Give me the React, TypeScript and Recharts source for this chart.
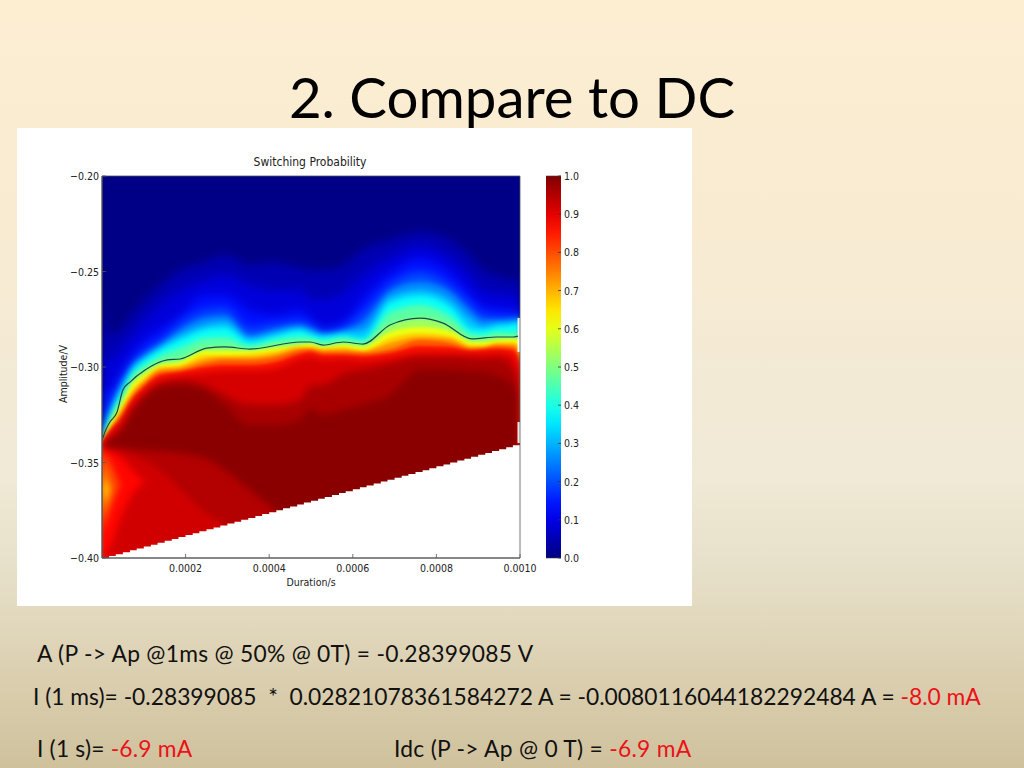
import React from "react";
import { ComposedChart, Area, Line, XAxis, YAxis, ReferenceArea } from "recharts";

// Duration columns (microseconds) at which the probability contours were read
const durationsUs = [0, 19, 43, 72, 103, 139, 187, 246, 294, 354, 414, 474, 498, 529, 577, 624, 689, 761, 833, 885, 911, 945, 983, 1000];
// Probability levels of the contours
const levels = [0.03, 0.07, 0.11, 0.17, 0.23, 0.29, 0.35, 0.42, 0.5, 0.57, 0.64, 0.7, 0.76, 0.82, 0.89, 0.94, 0.98];
// For each duration column: |amplitude| in mV where each level is reached
const c0 = [264.9, 288.5, 309.4, 327.8, 334, 335.6, 336.7, 337.2, 337.7, 338.2, 338.8, 338.8, 339.3, 339.3, 339.8, 340.3, 340.8];
const c19 = [283.3, 297.4, 313.1, 318.3, 321.5, 323.6, 325.1, 327.2, 328.8, 329.9, 331.4, 331.9, 333, 333.5, 334.6, 336.7, 338.2];
const c43 = [280.6, 291.1, 304.2, 307.9, 310, 312, 314.7, 316.8, 318.9, 320.9, 322.5, 324.1, 326.2, 327.8, 329.3, 331.9, 334.6];
const c72 = [272.8, 283.3, 293.7, 297.4, 299, 300.5, 302.6, 304.7, 306.8, 309.4, 312, 313.6, 315.7, 317.3, 318.9, 321.5, 324.1];
const c103 = [264.9, 275.4, 285.9, 291.1, 293.2, 294.8, 296.3, 299, 301.6, 303.7, 305.2, 306.8, 308.4, 310, 312, 313.6, 316.2];
const c139 = [257.1, 267.5, 280.6, 285.9, 288, 289.5, 291.1, 294.2, 297.4, 299, 300, 301.1, 302.6, 304.2, 306.3, 308.4, 311];
const c187 = [249.2, 259.7, 272.8, 277, 280.6, 283.3, 285.9, 290.1, 295.8, 297.4, 299, 300, 301.6, 302.6, 304.2, 306.8, 309.4];
const c246 = [245, 254.5, 262.3, 270.2, 274.4, 278, 280.6, 284.8, 290.1, 291.6, 293.7, 295.8, 297.9, 300, 302.6, 309.4, 312];
const c294 = [241.4, 251.8, 262.3, 269.1, 273.3, 276.4, 279.6, 284.3, 289.5, 291.6, 293.7, 294.8, 296.3, 299, 301.6, 314.7, 320];
const c354 = [246.6, 257.1, 270.2, 279.6, 283.3, 284.8, 286.9, 289, 290.6, 291.6, 293.2, 294.8, 296.3, 299, 301.6, 319.9, 330.4];
const c414 = [245, 259.7, 272.8, 277.5, 280.1, 282.2, 283.8, 285.9, 288.5, 290.1, 291.6, 293.2, 294.8, 297.4, 300.5, 319.9, 330.4];
const c474 = [248.2, 259.7, 270.2, 275.9, 278, 279.6, 281.2, 284.3, 287.4, 288.5, 289, 290.1, 291.1, 293.2, 295.3, 317.3, 327.8];
const c498 = [249.2, 263.9, 274.4, 277.5, 279.6, 281.2, 282.7, 284.8, 286.9, 288, 289, 290.1, 290.6, 292.2, 294.2, 310, 322];
const c529 = [249.2, 264.9, 279.6, 281.2, 282.2, 283.3, 284.3, 286.4, 288.5, 289.5, 290.1, 291.1, 292.2, 293.7, 295.8, 309.4, 325.1];
const c577 = [246.6, 261.3, 276.4, 279.1, 280.6, 281.7, 283.3, 284.8, 286.9, 288.5, 289.5, 290.6, 292.2, 293.7, 295.3, 303.7, 322.5];
const c624 = [238.7, 251.8, 263.9, 271.2, 276.4, 280.6, 284.8, 286.4, 288, 289.5, 291.1, 291.6, 292.7, 294.2, 296.3, 301.6, 319.9];
const c689 = [233.5, 242.9, 250.7, 256.5, 260.2, 263.4, 266.5, 271.2, 278, 281.7, 284.8, 287.4, 290.6, 292.7, 294.8, 298.4, 314.7];
const c761 = [229.3, 236.6, 242.9, 250.3, 255.5, 259.7, 262.8, 267.5, 274.4, 279.1, 282.2, 284.3, 285.9, 289, 292.2, 294.8, 301.6];
const c833 = [233.5, 242.9, 250.3, 257.1, 260.7, 265, 268.6, 273.3, 278.5, 281.2, 283.8, 285.3, 287.4, 289.5, 292.2, 294.8, 301.6];
const c885 = [242.9, 253.4, 262.3, 267.5, 271.2, 275.4, 280.1, 282.7, 285.3, 286.9, 288.5, 289.5, 290.6, 291.6, 292.7, 295.3, 302.6];
const c911 = [249.2, 259.7, 267.5, 272.3, 275.4, 278.5, 280.6, 283.3, 285.3, 286.9, 288.5, 289.5, 290.1, 291.1, 292.7, 295.8, 302.6];
const c945 = [251.8, 261.3, 269.1, 273.3, 275.4, 277, 279.1, 281.7, 284.3, 285.9, 286.9, 288, 289, 290.6, 292.2, 295.3, 304.7];
const c983 = [254.5, 262.3, 270.2, 273.3, 274.9, 276.4, 278, 282.2, 284.3, 285.3, 286.9, 288, 289.5, 291.1, 293.7, 300.5, 309.4];
const c1000 = [253.4, 261.3, 268.1, 271.7, 273.8, 275.4, 277, 280.6, 283.8, 285.3, 288.5, 290.6, 294.2, 297.9, 302.6, 309.4, 316.2];
const columns = [c0, c19, c43, c72, c103, c139, c187, c246, c294, c354, c414, c474, c498, c529, c577, c624, c689, c761, c833, c885, c911, c945, c983, c1000];

// Lighter pockets in the low-amplitude, short-duration corner (|mV| top and bottom per column)
const pocketLevels = [0.95, 0.92, 0.87, 0.8, 0.72, 0.66];
const pocketTops = [
  [341.4, 341.9, 342.4, 342.9, 343.5, 344, 345.1, 347.7, 353.9, 364.4, 374.9],
  [341.9, 342.9, 344, 346, 349, 354, 364, 376, 382],
  [342.4, 344, 346.6, 353.9, 360.2],
  [343.5, 349.7, 361.8],
  [348.7, 364.4],
  [356.6, 364.4],
];
const pocketBottoms = [
  [400, 400, 400, 400, 400, 400, 400, 400, 400, 400, 400],
  [400, 400, 400, 400, 400, 400, 400, 400, 400],
  [398.4, 394.8, 380.1, 367, 360.2],
  [388, 374.9, 361.8],
  [380.1, 364.4],
  [372.3, 364.4],
];

// The 0.5 contour line
const contourDurations = [2, 7, 19, 36, 50, 67, 103, 156, 187, 251, 294, 354, 474, 498, 529, 577, 624, 689, 761, 816, 885, 945, 983, 995];
const contourAmps = [-337.2, -334, -328.8, -323.6, -312, -307.9, -301.6, -296.3, -295.8, -290.1, -289.5, -290.6, -286.9, -286.9, -288.5, -286.9, -288, -278, -274.4, -277, -285.3, -284.3, -284.3, -283.8];

// Edge of the measured region (below it the plot is empty)
const edgeDurations = [0, 17, 33, 50, 67, 83, 100, 117, 133, 150, 167, 183, 200, 217, 233, 250, 267, 283, 300, 317, 333, 350, 367, 383, 400, 417, 433, 450, 467, 483, 500, 517, 533, 550, 567, 583, 600, 617, 633, 650, 667, 683, 700, 717, 733, 750, 767, 783, 800, 817, 833, 850, 867, 883, 900, 917, 933, 950, 967, 983, 1000];
const edgeAmps = [-400, -399, -398, -397, -396, -395, -394, -393, -392, -391, -390, -389, -388, -387, -386, -385, -384, -383, -382, -381, -380, -379, -378, -377, -376, -375, -374, -373, -372, -371, -370, -369, -368, -367, -366, -365, -364, -363, -362, -361, -360, -359, -358, -357, -356, -355, -354, -353, -352, -351, -350, -349, -348, -347, -346, -345, -344, -343, -342, -341, -340];

const xTicks = [200, 400, 600, 800, 1000];
const yTicks = [-0.2, -0.25, -0.3, -0.35, -0.4];
const barTicks = [0, 0.1, 0.2, 0.3, 0.4, 0.5, 0.6, 0.7, 0.8, 0.9, 1];
const barStops = [0, 0.05, 0.1, 0.15, 0.2, 0.25, 0.3, 0.35, 0.4, 0.45, 0.5, 0.55, 0.6, 0.65, 0.7, 0.75, 0.8, 0.85, 0.9, 0.95, 1];
const barRows = [{ t: 0, span: [0, 1] }, { t: 1, span: [0, 1] }];

const jet = (p: number) => {
  const ch = (c: number) => Math.round(255 * Math.max(0, Math.min(1, 1.5 - Math.abs(4 * p - c))));
  return `rgb(${ch(3)},${ch(2)},${ch(1)})`;
};

const bandRows = durationsUs.map((d, col) => {
  const row: Record<string, any> = { d };
  levels.forEach((_, i) => { row[`b${i}`] = [-columns[col][i] / 1000, -0.4]; });
  pocketTops.forEach((tops, i) => {
    row[`p${i}`] = col < tops.length ? [-tops[col] / 1000, -pocketBottoms[i][col] / 1000] : null;
  });
  return row;
});
const edgeRows = edgeDurations.map((d, i) => ({ d, white: [-0.4, edgeAmps[i] / 1000] }));
const contourRows = contourDurations.map((d, i) => ({ d, v: contourAmps[i] / 1000 }));

const FONT = "'DejaVu Sans Condensed','DejaVu Sans',sans-serif";
const TICK = "#222";
const TS = 10.5;

const XTick = ({ x, y, payload }: any) => (
  <g>
    <line x1={x} x2={x} y1={y} y2={y - 4} stroke="#555" strokeWidth={0.8} />
    <text x={x} y={y + 14} textAnchor="middle" fontFamily={FONT} fontSize={TS} fill={TICK}>
      {(payload.value / 1e6).toFixed(4)}
    </text>
  </g>
);
const YTick = ({ x, y, payload }: any) => (
  <g>
    <line x1={x} x2={x + 4} y1={y} y2={y} stroke="#555" strokeWidth={0.8} />
    <text x={x - 3} y={y + 4} textAnchor="end" fontFamily={FONT} fontSize={TS} fill={TICK}>
      {"\u2212" + Math.abs(payload.value).toFixed(2)}
    </text>
  </g>
);
const BarTick = ({ x, y, payload }: any) => (
  <g>
    <line x1={x - 3} x2={x} y1={y} y2={y} stroke="#333" strokeWidth={0.8} />
    <text x={x + 3} y={y + 4} textAnchor="start" fontFamily={FONT} fontSize={TS} fill={TICK}>
      {payload.value.toFixed(1)}
    </text>
  </g>
);

const abs = (left: number, top: number, extra: React.CSSProperties = {}): React.CSSProperties => ({ position: "absolute", left, top, ...extra });
const slideText: React.CSSProperties = { position: "absolute", fontFamily: "Lato, sans-serif", fontSize: 22.8, color: "#111", whiteSpace: "pre", lineHeight: "26px" };
const Red = ({ children }: any) => <span style={{ color: "#ec1118" }}>{children}</span>;

// One blurred layer of the field: a run of contour bands, optionally with the corner pockets
const FieldLayer = ({ from, to, blur, pockets }: { from: number; to: number; blur: number; pockets?: boolean }) => (
  <div style={{ position: "absolute", left: 0, top: 0, filter: `blur(${blur}px)` }}>
    <ComposedChart width={418} height={382} data={bandRows} margin={{ top: 0, right: 0, bottom: 0, left: 0 }}>
      <XAxis hide dataKey="d" type="number" domain={[0, 1000]} />
      <YAxis hide type="number" domain={[-0.4, -0.2]} />
      {levels.map((l, i) =>
        i >= from && i <= to ? (
          <Area key={l} dataKey={`b${i}`} type="monotone" stroke="none" fill={jet((l + (levels[i + 1] ?? 1)) / 2)} fillOpacity={1} isAnimationActive={false} dot={false} activeDot={false} />
        ) : null
      )}
      {pockets
        ? pocketLevels.map((l, i) => (
            <Area key={l} dataKey={`p${i}`} type="monotone" stroke="none" fill={jet(l)} fillOpacity={1} isAnimationActive={false} dot={false} activeDot={false} />
          ))
        : null}
    </ComposedChart>
  </div>
);

export default function App() {
  return (
    <div style={{ position: "fixed", left: 0, top: 0, width: 1024, height: 768, overflow: "hidden", background: "linear-gradient(180deg,#fdeed2 0%,#f8ebd2 30%,#f3ead5 50%,#f0ead6 62%,#e6dfc8 75%,#dbcfb0 88%,#cfc19c 100%)" }}>
      <div style={{ position: "absolute", left: 0, width: 1024, top: 60, textAlign: "center", fontFamily: "Lato, sans-serif", fontSize: 56.4, lineHeight: "72px", color: "#000" }}>2. Compare to DC</div>
      <div style={abs(17, 128, { width: 675, height: 478, background: "#fff" })} />

      {/* field */}
      <div style={abs(102, 176, { width: 418, height: 382, overflow: "hidden", background: "#000086" })}>
        <FieldLayer from={0} to={3} blur={5} />
        <FieldLayer from={4} to={8} blur={2.5} />
        <FieldLayer from={9} to={13} blur={1.5} />
        <FieldLayer from={14} to={16} blur={3.5} pockets />
      </div>

      {/* empty region, contour line and axes */}
      <div style={abs(17, 128)}>
        <ComposedChart width={675} height={478} margin={{ top: 48, right: 172, bottom: 0, left: 0 }}>
          <XAxis dataKey="d" type="number" domain={[0, 1000]} ticks={xTicks} height={48} tickSize={0} tickMargin={0} tick={<XTick />} stroke="#555" allowDuplicatedCategory={false}
            label={{ value: "Duration/s", position: "insideBottom", offset: 20, fontFamily: FONT, fontSize: 10.5, fill: "#222" }} />
          <YAxis type="number" domain={[-0.4, -0.2]} ticks={yTicks} width={85} tickSize={0} tickMargin={0} tick={<YTick />} stroke="#555"
            label={{ value: "Amplitude/V", angle: -90, position: "insideLeft", offset: 46, dy: 36, fontFamily: FONT, fontSize: 10.5, fill: "#222" }} />
          <Area data={edgeRows} dataKey="white" type="stepAfter" stroke="none" fill="#fff" fillOpacity={1} isAnimationActive={false} dot={false} activeDot={false} />
          <Line data={contourRows} dataKey="v" type="monotone" stroke="#17494f" strokeWidth={1.2} dot={false} activeDot={false} isAnimationActive={false} />
          <ReferenceArea x1={994} x2={1000} y1={-0.2921} y2={-0.2743} fill="#fff" fillOpacity={0.9} stroke="none" />
          <ReferenceArea x1={994} x2={1000} y1={-0.3398} y2={-0.3288} fill="#fff" fillOpacity={0.9} stroke="none" />
          <ReferenceArea x1={0} x2={1000} y1={-0.4} y2={-0.2} fill="none" stroke="#555" strokeWidth={0.8} />
        </ComposedChart>
      </div>

      {/* colour bar */}
      <div style={abs(546, 156)}>
        <ComposedChart width={60} height={422} data={barRows} margin={{ top: 20, right: 0, bottom: 20, left: 0 }}>
          <defs>
            <linearGradient id="jetBar" x1="0" y1="1" x2="0" y2="0">
              {barStops.map((t) => (
                <stop key={t} offset={t} stopColor={jet(t)} />
              ))}
            </linearGradient>
          </defs>
          <XAxis hide dataKey="t" type="number" domain={[0, 1]} />
          <YAxis orientation="right" type="number" domain={[0, 1]} ticks={barTicks} interval={0} width={45} tickSize={0} tickMargin={0} tick={<BarTick />} axisLine={false} />
          <Area dataKey="span" type="linear" stroke="#444" strokeWidth={0.6} fill="url(#jetBar)" fillOpacity={1} isAnimationActive={false} dot={false} activeDot={false} />
        </ComposedChart>
      </div>

      <div style={abs(100, 155, { width: 420, textAlign: "center", fontFamily: FONT, fontSize: 12, color: "#222" })}>Switching Probability</div>

      <div style={{ ...slideText, left: 37, top: 640, letterSpacing: 0.28 }}>A (P -&gt; Ap @1ms @ 50% @ 0T) = -0.28399085 V</div>
      <div style={{ ...slideText, left: 33, top: 683 }}>I (1 ms)= -0.28399085  *  0.02821078361584272 A = -0.0080116044182292484 A = <Red>-8.0 mA</Red></div>
      <div style={{ ...slideText, left: 37, top: 735, letterSpacing: 0.2 }}>I (1 s)= <Red>-6.9 mA</Red></div>
      <div style={{ ...slideText, left: 394, top: 735, letterSpacing: 0.28 }}>Idc (P -&gt; Ap @ 0 T) = <Red>-6.9 mA</Red></div>
    </div>
  );
}
